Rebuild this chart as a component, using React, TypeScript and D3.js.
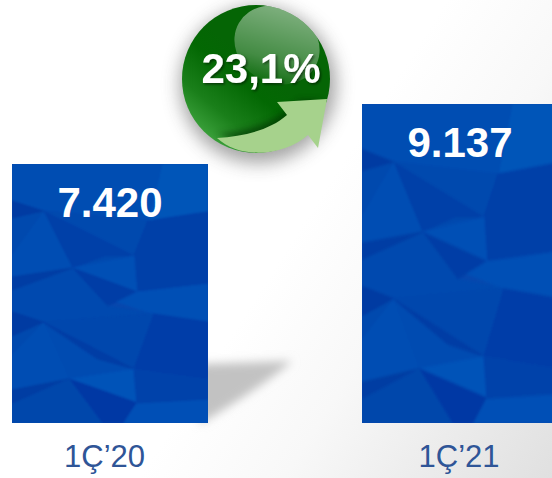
import React from "react";
import * as d3 from "d3";

const categories = ["1Ç’20", "1Ç’21"];
const values = [7420, 9137];
const valueLabels = ["7.420", "9.137"];
const growthLabel = "23,1%";

const W = 552, H = 478;
const FONT = "'Liberation Sans', Arial, sans-serif";
const baseline = 423;
const y = d3.scaleLinear().domain([0, 9137]).range([baseline, 104]);
const x = d3.scaleBand<string>().domain(categories).range([12, 558]).paddingInner(0.44).paddingOuter(0);

// decorative facets in the bar's image space (196 x 259)
const TEX_H = 259;
type Facet = [string, [number, number][]];
const facets: Facet[] = [
  ["#0654b8", [[136, 57], [196, 48], [196, 0], [150, 0]]],
  ["#054db2", [[0, 0], [150, 0], [136, 57], [31, 47], [0, 37]]],
  ["#0548ae", [[31, 47], [136, 57], [122, 92], [60, 104]]],
  ["#0340a8", [[31, 47], [122, 92], [92, 92], [60, 104]]],
  ["#064eb3", [[31, 47], [60, 104], [0, 116], [0, 90]]],
  ["#0549ae", [[0, 52], [31, 47], [0, 90]]],
  ["#033ba2", [[0, 37], [31, 47], [0, 54]]],
  ["#033fa8", [[136, 57], [196, 48], [196, 122], [125, 128], [122, 92]]],
  ["#064fb5", [[60, 104], [122, 92], [125, 128], [98, 118]]],
  ["#033da6", [[60, 104], [98, 118], [125, 128], [95, 142]]],
  ["#0549af", [[0, 116], [60, 104], [95, 142], [141, 149], [31, 158], [0, 148]]],
  ["#033da4", [[0, 113], [60, 104], [0, 126]]],
  ["#064fb5", [[125, 128], [196, 120], [196, 158], [142, 150], [105, 138]]],
  ["#0447ad", [[31, 158], [142, 150], [122, 205]]],
  ["#054bb1", [[31, 158], [122, 205], [57, 215]]],
  ["#033da5", [[31, 158], [122, 205], [86, 195]]],
  ["#033ea8", [[142, 150], [196, 158], [196, 215], [122, 205]]],
  ["#064eb3", [[31, 158], [57, 215], [0, 226], [0, 190]]],
  ["#0549ae", [[0, 172], [31, 158], [0, 190]]],
  ["#033ba2", [[0, 148], [31, 158], [0, 172]]],
  ["#033da3", [[0, 226], [57, 215], [0, 240]]],
  ["#0652b8", [[57, 215], [122, 205], [125, 239]]],
  ["#0338a4", [[57, 215], [125, 239], [112, 259], [90, 259]]],
  ["#0446ab", [[0, 240], [57, 215], [90, 259], [0, 259]]],
  ["#0650b6", [[125, 239], [196, 235], [196, 259], [112, 259]]],
  ["#0442aa", [[122, 205], [196, 215], [196, 235], [125, 239]]],
];
const polyPath = d3.line();

const cx = 256, cy = 79, r = 74;
const arrowPath = "M217 138 C245 136 270 130 287 115 L277 102 L327 99 L318 148 L308 135 C285 156 240 160 217 138 Z";

export default function App() {
  return (
    <svg width={W} height={H} viewBox={`0 0 ${W} ${H}`} style={{ position: "absolute", left: 0, top: 0, display: "block" }}>
      <defs>
        <linearGradient id="bg" gradientUnits="userSpaceOnUse" x1={260} y1={290} x2={552} y2={478}>
          <stop offset="0" stopColor="#ffffff" />
          <stop offset="0.35" stopColor="#f8f8f8" />
          <stop offset="1" stopColor="#e0e0e0" />
        </linearGradient>
        <linearGradient id="ball" gradientUnits="userSpaceOnUse" x1={205} y1={140} x2={262} y2={70}>
          <stop offset="0" stopColor="#3fa53f" />
          <stop offset="0.35" stopColor="#1a7f1a" />
          <stop offset="0.75" stopColor="#036803" />
          <stop offset="1" stopColor="#056505" />
        </linearGradient>
        <linearGradient id="gloss" x1="0.3" y1="0" x2="0.6" y2="1">
          <stop offset="0" stopColor="#fff" stopOpacity="0.5" />
          <stop offset="0.7" stopColor="#fff" stopOpacity="0.25" />
          <stop offset="1" stopColor="#fff" stopOpacity="0.05" />
        </linearGradient>
        <filter id="b2" x="-40%" y="-40%" width="180%" height="180%"><feGaussianBlur stdDeviation="9" /></filter>
        <filter id="b3" x="-30%" y="-30%" width="160%" height="160%"><feGaussianBlur stdDeviation="5" /></filter>
        <filter id="b4" x="-30%" y="-30%" width="160%" height="160%"><feGaussianBlur stdDeviation="3" /></filter>
        <filter id="soft" x="-5%" y="-5%" width="110%" height="110%"><feGaussianBlur stdDeviation="1.3" /></filter>
        <filter id="txt" x="-10%" y="-20%" width="120%" height="140%">
          <feDropShadow dx="1.5" dy="1.5" stdDeviation="1.2" floodColor="#000" floodOpacity="0.5" />
        </filter>
        <clipPath id="ballClip"><circle cx={cx} cy={cy} r={r} /></clipPath>
        {categories.map((c, i) => (
          <clipPath key={c} id={`bar${i}`}>
            <rect x={x(c)} y={y(values[i])} width={x.bandwidth()} height={baseline - y(values[i])} />
          </clipPath>
        ))}
      </defs>

      <rect width={W} height={H} fill="url(#bg)" />

      {/* floor shadow behind first bar */}
      <path d="M200 364 L292 361 Q265 385 200 424 Z" fill="#c2c2c2" filter="url(#b3)" />

      {categories.map((c, i) => {
        const bx = x(c)!, top = y(values[i]), h = baseline - top;
        return (
          <g key={c}>
            <g clipPath={`url(#bar${i})`}>
              <rect x={bx - 3} y={top - 3} width={x.bandwidth() + 6} height={h + 6} fill="#0747ad" />
              <g transform={`translate(${bx},${top}) scale(1,${h / TEX_H})`} filter="url(#soft)">
                {facets.map(([fill, pts], k) => (
                  <path key={k} d={polyPath(pts) + "Z"} fill={fill} stroke={fill} strokeWidth={1} />
                ))}
              </g>
            </g>
            <text x={bx + 98} y={top + 53} textAnchor="middle" fontFamily={FONT} fontWeight="bold" fontSize={42} fill="#fff">
              {valueLabels[i]}
            </text>
            <text x={bx + 98 + (i === 0 ? -5.5 : -1)} y={467} textAnchor="middle" fontFamily={FONT} fontSize={31} fill="#2f5597">
              {c}
            </text>
          </g>
        );
      })}

      {/* growth badge */}
      <circle cx={cx + 2} cy={cy + 6} r={r + 4} fill="#666" opacity={0.6} filter="url(#b2)" />
      <circle cx={cx} cy={cy} r={r} fill="url(#ball)" />
      <g clipPath="url(#ballClip)">
        <ellipse cx={277} cy={45} rx={44} ry={38} transform="rotate(30 277 45)" fill="url(#gloss)" />
      </g>
      <path d="M217 134 C245 132 270 124 287 110 L300 100 L320 100 L290 132 L240 142 Z" fill="#002f00" opacity={0.6} filter="url(#b4)" clipPath="url(#ballClip)" />
      <path d={arrowPath} fill="#a6d28c" />
      <text x={261} y={83} textAnchor="middle" fontFamily={FONT} fontWeight="bold" fontSize={42} fill="#fff" filter="url(#txt)">
        {growthLabel}
      </text>
    </svg>
  );
}
